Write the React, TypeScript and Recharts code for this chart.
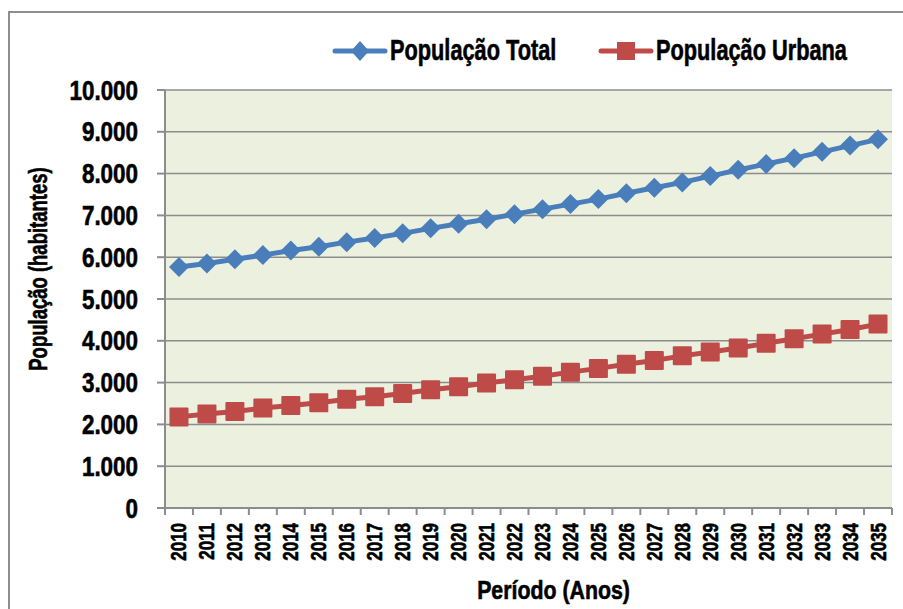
import { CartesianGrid, Label, Line, LineChart, XAxis, YAxis } from "recharts";

const anos = [
  "2010", "2011", "2012", "2013", "2014", "2015", "2016", "2017", "2018",
  "2019", "2020", "2021", "2022", "2023", "2024", "2025", "2026", "2027",
  "2028", "2029", "2030", "2031", "2032", "2033", "2034", "2035",
];

const populacaoTotal = [
  5765, 5850, 5950, 6050, 6160, 6250, 6360, 6460, 6570, 6690, 6800, 6910,
  7030, 7150, 7270, 7390, 7530, 7660, 7790, 7940, 8090, 8230, 8370, 8520,
  8670, 8820,
];

const populacaoUrbana = [
  2180, 2250, 2310, 2390, 2450, 2520, 2600, 2660, 2740, 2830, 2900, 2990,
  3070, 3150, 3250, 3340, 3440, 3530, 3640, 3730, 3830, 3940, 4050, 4160,
  4270, 4400,
];

const yTicks = [0, 1000, 2000, 3000, 4000, 5000, 6000, 7000, 8000, 9000, 10000];

const series = [
  { key: "total", name: "População Total", color: "#4A7EBB", marker: "diamond" },
  { key: "urbana", name: "População Urbana", color: "#BE4B48", marker: "square" },
];

const data = anos.map((ano, i) => ({
  ano,
  total: populacaoTotal[i],
  urbana: populacaoUrbana[i],
}));

// no Arial Narrow here, so bold Liberation Sans squeezed sideways
const FONT = "'Liberation Sans', Arial, sans-serif";
const GRID = "#8c8c8c";
const legendX = [332, 598];

function formatMil(n: number) {
  if (n < 1000) return String(n);
  return `${Math.floor(n / 1000)}.${String(n % 1000).padStart(3, "0")}`;
}

function NarrowText({ x, y, rotate = 0, squeeze, size, anchor = "start", dy, children }: any) {
  return (
    <text
      transform={`translate(${x},${y}) rotate(${rotate}) scale(${squeeze},1)`}
      textAnchor={anchor}
      dy={dy}
      fontFamily={FONT}
      fontWeight="bold"
      fontSize={size}
      fill="#000"
      stroke="#000"
      strokeWidth={0.6}
    >
      {children}
    </text>
  );
}

function DiamondDot(props: any) {
  const { cx, cy, fill } = props;
  if (cx == null || cy == null) return null;
  const r = 10;
  return (
    <path
      d={`M${cx},${cy - r}L${cx + r},${cy}L${cx},${cy + r}L${cx - r},${cy}Z`}
      fill={fill}
    />
  );
}

function SquareDot(props: any) {
  const { cx, cy, fill } = props;
  if (cx == null || cy == null) return null;
  const s = 19;
  return <rect x={cx - s / 2} y={cy - s / 2} width={s} height={s} rx={1} fill={fill} />;
}

function YearTick(props: any) {
  const { x, y, payload, index, width, visibleTicksCount } = props;
  const half = width / visibleTicksCount / 2;
  return (
    <g>
      <line x1={x - half} x2={x - half} y1={y} y2={y + 7} stroke={GRID} strokeWidth={2} />
      {index === visibleTicksCount - 1 && (
        <line x1={x + half} x2={x + half} y1={y} y2={y + 7} stroke={GRID} strokeWidth={2} />
      )}
      <NarrowText x={x + 7.5} y={y + 15} rotate={-90} squeeze={0.77} size={22} anchor="end">
        {payload.value}
      </NarrowText>
    </g>
  );
}

function ValueTick(props: any) {
  const { x, y, payload } = props;
  return (
    <NarrowText x={x} y={y} squeeze={0.83} size={27} anchor="end" dy="0.355em">
      {formatMil(payload.value)}
    </NarrowText>
  );
}

function YTitle(props: any) {
  const vb = props.viewBox || { x: 0, y: 90, width: 165, height: 418 };
  return (
    <NarrowText x={vb.x + 47} y={vb.y + vb.height / 2 - 30} rotate={-90} squeeze={0.74} size={25} anchor="middle">
      População (habitantes)
    </NarrowText>
  );
}

function XTitle(props: any) {
  const vb = props.viewBox || { x: 165, y: 508, width: 727, height: 70 };
  return (
    <NarrowText x={vb.x + vb.width / 2 + 25} y={vb.y + 91} squeeze={0.82} size={26} anchor="middle">
      Período (Anos)
    </NarrowText>
  );
}

function ChartLegend() {
  return (
    <svg
      width={903}
      height={80}
      style={{ position: "absolute", left: 0, top: 0, pointerEvents: "none" }}
    >
      {series.map((s, i) => {
        const x = legendX[i];
        return (
          <g key={s.key}>
            <line x1={x + 3} x2={x + 53} y1={51} y2={51} stroke={s.color} strokeWidth={5} strokeLinecap="round" />
            {s.marker === "diamond" ? (
              <path d={`M${x + 28},${41}L${x + 37},${51}L${x + 28},${61}L${x + 19},${51}Z`} fill={s.color} />
            ) : (
              <rect x={x + 19} y={42} width={18} height={18} fill={s.color} />
            )}
            <NarrowText x={x + 58} y={60} squeeze={0.75} size={29}>
              {s.name}
            </NarrowText>
          </g>
        );
      })}
    </svg>
  );
}

export default function App() {
  return (
    <div style={{ position: "fixed", left: 0, top: 0, width: 903, height: 609, background: "#fff", overflow: "hidden" }}>
      <div
        style={{
          position: "absolute",
          left: 8,
          top: 11,
          width: 960,
          height: 700,
          border: "2px solid #8e8e8e",
        }}
      />
      <LineChart
        width={903}
        height={609}
        data={data}
        margin={{ top: 90, right: 11, left: 0, bottom: 31 }}
        style={{ position: "absolute", left: 0, top: 0 }}
      >
        <CartesianGrid vertical={false} stroke={GRID} strokeWidth={1.5} fill="#EBF1DE" />
        <XAxis
          dataKey="ano"
          scale="band"
          interval={0}
          height={70}
          tickSize={0}
          tickMargin={0}
          tickLine={false}
          axisLine={{ stroke: GRID, strokeWidth: 2 }}
          tick={<YearTick />}
        >
          <Label content={<XTitle />} />
        </XAxis>
        <YAxis
          width={165}
          domain={[0, 10000]}
          ticks={yTicks}
          interval={0}
          tickSize={8}
          tickMargin={19}
          tickLine={{ stroke: GRID, strokeWidth: 2 }}
          axisLine={{ stroke: GRID, strokeWidth: 2 }}
          tick={<ValueTick />}
        >
          <Label content={<YTitle />} />
        </YAxis>
        {series.map((s) => (
          <Line
            key={s.key}
            dataKey={s.key}
            name={s.name}
            stroke={s.color}
            strokeWidth={5}
            fill={s.color}
            isAnimationActive={false}
            dot={s.marker === "diamond" ? <DiamondDot fill={s.color} /> : <SquareDot fill={s.color} />}
            activeDot={false}
          />
        ))}
      </LineChart>
      <ChartLegend />
    </div>
  );
}
